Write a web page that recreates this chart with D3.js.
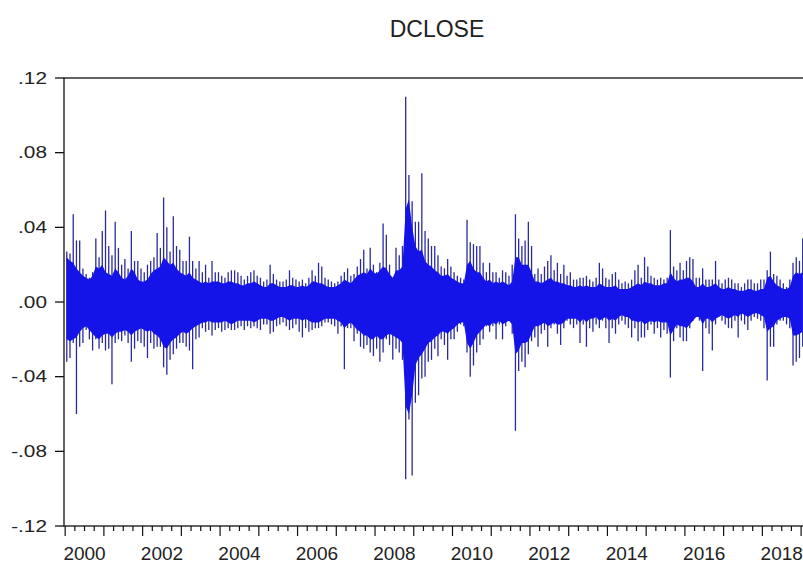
<!DOCTYPE html>
<html>
<head>
<meta charset="utf-8">
<title>DCLOSE</title>
<script src="https://cdn.jsdelivr.net/npm/d3@7"></script>
<style>
  body { margin: 0; background: #fff; }
  svg { display: block; font-family: 'Liberation Sans', Arial, sans-serif; }
</style>
</head>
<body>
<svg id="chart" width="803" height="565"></svg>
<script>
// monthly extremes of the daily series, Jan 2000 .. Jan 2019
const seriesName = 'DCLOSE';
const startYear = 2000;
const monthHigh = [
  .027,.026,.047,.033,.033,.018,.015,.013,.016,.034,
  .024,.038,.049,.030,.025,.043,.029,.020,.023,.018,
  .038,.022,.022,.018,.016,.020,.022,.024,.037,.029,
  .056,.040,.027,.046,.030,.028,.022,.022,.035,.022,
  .018,.022,.016,.020,.013,.022,
  .016,.016,.014,.013,.016,.017,.017,.016,.014,.012,
  .014,.016,.017,.014,.013,.011,.012,.020,.015,.012,
  .011,.011,.012,.017,.013,.012,.011,.012,.010,.013,
  .017,.014,.021,.019,.013,.012,.011,.010,.011,.014,
  .016,.018,.014,.015,.019,.023,
  .028,.018,.029,.020,.016,.021,.042,.036,.020,.012,
  .029,.025,.030,.110,.068,.054,.043,.043,.069,.038,
  .034,.030,.030,.025,.019,.018,.023,.019,.016,.014,
  .013,.012,.044,.032,.031,.030,.030,.021,.016,.021,
  .016,.016,.013,.017,.016,
  .014,.020,.047,.034,.030,.033,.043,.030,.015,.018,
  .015,.019,.022,.025,.017,.021,.015,.020,.014,.016,
  .012,.012,.013,.013,.014,.012,.011,.013,.021,.018,
  .013,.012,.015,.016,.012,.010,.011,.010,.012,.017,
  .020,.013,.024,.019,
  .014,.013,.012,.013,.012,.013,.0385,.019,.017,.021,
  .017,.022,.024,.023,.013,.013,.018,.012,.012,.012,
  .022,.012,.010,.012,.013,.012,.010,.010,.008,.010,
  .012,.012,.010,.010,.012,.012,.017,.027,.015,.014,
  .012,.010,.008,.012,.021,.024,.022,.034
];
const monthLow = [
  -.032,-.030,-.022,-.060,-.024,-.022,-.015,-.020,-.026,-.020,
  -.025,-.022,-.026,-.025,-.044,-.022,-.020,-.021,-.018,-.022,
  -.032,-.025,-.021,-.022,-.024,-.030,-.022,-.025,-.024,-.024,
  -.035,-.039,-.031,-.028,-.025,-.022,-.022,-.024,-.026,-.036,
  -.020,-.019,-.014,-.016,-.015,-.018,
  -.015,-.014,-.016,-.015,-.014,-.015,-.015,-.014,-.013,-.015,
  -.013,-.014,-.013,-.014,-.015,-.012,-.012,-.017,-.016,-.013,
  -.012,-.011,-.013,-.015,-.014,-.012,-.016,-.019,-.014,-.016,
  -.015,-.014,-.014,-.013,-.011,-.011,-.012,-.013,-.017,-.013,
  -.036,-.014,-.014,-.021,-.017,-.024,
  -.025,-.023,-.027,-.029,-.025,-.032,-.027,-.020,-.023,-.031,
  -.025,-.027,-.031,-.095,-.063,-.093,-.054,-.050,-.041,-.040,
  -.032,-.031,-.025,-.029,-.020,-.023,-.031,-.020,-.020,-.016,
  -.012,-.013,-.027,-.040,-.034,-.027,-.023,-.020,-.013,-.016,
  -.013,-.020,-.012,-.020,-.013,
  -.010,-.017,-.069,-.037,-.032,-.035,-.028,-.021,-.019,-.024,
  -.017,-.015,-.024,-.014,-.012,-.017,-.023,-.014,-.010,-.012,
  -.014,-.012,-.022,-.012,-.024,-.014,-.016,-.012,-.014,-.010,
  -.014,-.022,-.014,-.017,-.012,-.010,-.012,-.014,-.019,-.014,
  -.021,-.019,-.019,-.015,
  -.012,-.017,-.014,-.019,-.015,-.017,-.0405,-.021,-.014,-.019,
  -.021,-.021,-.014,-.010,-.008,-.010,-.037,-.014,-.017,-.026,
  -.012,-.008,-.010,-.012,-.014,-.014,-.010,-.019,-.010,-.012,
  -.015,-.010,-.008,-.009,-.010,-.014,-.042,-.024,-.024,-.012,
  -.010,-.010,-.012,-.014,-.034,-.032,-.030,-.024
];
// monthly extent of the dense body of the series
const bodyHigh = [
  .024,.022,.021,.018,.016,.014,.013,.012,.014,.019,
  .018,.020,.016,.015,.014,.018,.016,.013,.012,.014,
  .018,.016,.012,.011,.011,.012,.015,.017,.018,.019,
  .024,.022,.020,.021,.018,.016,.015,.014,.016,.013,
  .012,.011,.010,.011,.010,.011,
  .011,.011,.010,.010,.011,.011,.010,.010,.009,.009,
  .010,.010,.011,.010,.009,.008,.008,.010,.010,.009,
  .008,.008,.008,.009,.009,.008,.008,.009,.008,.009,
  .011,.011,.010,.010,.009,.008,.008,.008,.009,.010,
  .012,.011,.010,.012,.014,.015,
  .016,.015,.018,.016,.015,.017,.019,.018,.015,.013,
  .017,.017,.019,.050,.055,.040,.030,.027,.028,.022,
  .020,.019,.017,.016,.014,.014,.015,.013,.012,.011,
  .010,.010,.020,.022,.018,.016,.016,.013,.011,.012,
  .010,.011,.010,.011,.010,
  .009,.011,.024,.024,.020,.020,.020,.016,.011,.011,
  .010,.011,.012,.013,.011,.011,.010,.010,.009,.009,
  .008,.008,.009,.008,.009,.008,.008,.008,.010,.009,
  .008,.008,.008,.009,.007,.007,.007,.007,.008,.009,
  .010,.009,.011,.010,
  .010,.009,.009,.009,.010,.010,.016,.013,.011,.012,
  .012,.013,.013,.011,.008,.008,.010,.008,.008,.009,
  .010,.008,.007,.007,.008,.007,.007,.006,.006,.006,
  .007,.007,.006,.006,.007,.007,.013,.014,.011,.009,
  .008,.007,.007,.008,.014,.016,.015,.016
];
const bodyLow = [
  -.020,-.021,-.020,-.019,-.016,-.014,-.013,-.015,-.017,-.019,
  -.020,-.018,-.017,-.017,-.019,-.017,-.016,-.016,-.015,-.016,
  -.018,-.016,-.015,-.014,-.015,-.016,-.015,-.017,-.018,-.020,
  -.024,-.025,-.022,-.020,-.019,-.017,-.016,-.017,-.016,-.014,
  -.013,-.012,-.011,-.011,-.010,-.011,
  -.011,-.011,-.011,-.010,-.011,-.012,-.011,-.010,-.010,-.010,
  -.010,-.010,-.011,-.010,-.009,-.009,-.009,-.010,-.010,-.009,
  -.008,-.008,-.009,-.010,-.009,-.009,-.009,-.010,-.009,-.010,
  -.011,-.011,-.011,-.010,-.009,-.009,-.009,-.009,-.010,-.011,
  -.014,-.012,-.011,-.013,-.015,-.016,
  -.018,-.018,-.020,-.020,-.018,-.020,-.020,-.018,-.017,-.018,
  -.019,-.020,-.022,-.056,-.060,-.050,-.034,-.030,-.028,-.025,
  -.022,-.021,-.019,-.018,-.016,-.016,-.017,-.015,-.014,-.012,
  -.011,-.011,-.022,-.025,-.022,-.018,-.016,-.014,-.012,-.013,
  -.011,-.012,-.010,-.012,-.011,
  -.010,-.012,-.028,-.026,-.022,-.022,-.021,-.017,-.013,-.013,
  -.012,-.011,-.013,-.012,-.011,-.012,-.012,-.011,-.009,-.009,
  -.009,-.009,-.011,-.009,-.011,-.009,-.009,-.008,-.010,-.009,
  -.008,-.010,-.009,-.010,-.008,-.007,-.008,-.008,-.010,-.010,
  -.011,-.010,-.012,-.011,
  -.010,-.011,-.010,-.011,-.011,-.011,-.018,-.015,-.012,-.013,
  -.013,-.014,-.012,-.010,-.008,-.008,-.012,-.009,-.009,-.011,
  -.009,-.008,-.007,-.008,-.009,-.008,-.007,-.008,-.006,-.007,
  -.008,-.007,-.006,-.006,-.007,-.008,-.016,-.014,-.013,-.010,
  -.009,-.008,-.008,-.009,-.018,-.018,-.017,-.016
];
const yTicks = [.12, .08, .04, 0, -.04, -.08, -.12];
const yearLabels = [2000, 2002, 2004, 2006, 2008, 2010, 2012, 2014, 2016, 2018];

const svg = d3.select('#chart');
const plot = { left: 64, right: 810, top: 78, bottom: 526 };
const x = d3.scaleLinear()
    .domain([1999.97, 2019.23])
    .range([plot.left, plot.right]);
const y = d3.scaleLinear()
    .domain([-.12, .12])
    .range([plot.bottom, plot.top]);

svg.append('rect')
    .attr('width', 803).attr('height', 565).attr('fill', '#fff');

// title
svg.append('text')
    .attr('x', 437).attr('y', 37)
    .attr('text-anchor', 'middle')
    .attr('font-size', 23)
    .attr('fill', '#222')
    .text(seriesName);

// spikes: one stroke per month from its low to its high
const monthTime = i => startYear + (i + 0.5) / 12;
svg.append('g')
    .selectAll('line')
    .data(monthHigh)
    .join('line')
    .attr('x1', (d, i) => x(monthTime(i)))
    .attr('x2', (d, i) => x(monthTime(i)))
    .attr('y1', d => y(d))
    .attr('y2', (d, i) => y(monthLow[i]))
    .attr('stroke', '#2a2a9c')
    .attr('stroke-width', 1.3);

// dense body, jagged month to month
const body = d3.area()
    .x((d, i) => x(monthTime(i)))
    .y0((d, i) => y(bodyLow[i]))
    .y1(d => y(d))
    .curve(d3.curveLinear);
svg.append('path')
    .datum(bodyHigh)
    .attr('d', body)
    .attr('fill', '#1414e8');

// frame
svg.append('rect')
    .attr('x', plot.left).attr('y', plot.top)
    .attr('width', plot.right - plot.left)
    .attr('height', plot.bottom - plot.top)
    .attr('fill', 'none')
    .attr('stroke', '#111')
    .attr('stroke-width', 1.3);

// y axis, EViews style labels (.04, -.04)
const fmt = v => d3.format('.2f')(Math.abs(v)).replace('0.', '.')
    .replace(/^/, v < 0 ? '-' : '');
const yAxis = svg.append('g');
yAxis.selectAll('line')
    .data(yTicks)
    .join('line')
    .attr('x1', plot.left - 9).attr('x2', plot.left)
    .attr('y1', d => y(d)).attr('y2', d => y(d))
    .attr('stroke', '#111').attr('stroke-width', 1.3);
yAxis.selectAll('text')
    .data(yTicks)
    .join('text')
    .attr('transform', d => `translate(47, ${y(d)}) scale(1.3, 1)`)
    .attr('text-anchor', 'end')
    .attr('dy', '0.36em')
    .attr('font-size', 16)
    .attr('fill', '#222')
    .text(fmt);

// x axis: year ticks plus quarter ticks, labels centred in the year
const xAxis = svg.append('g');
const quarters = d3.range(0, 19 * 4 + 1).map(q => startYear + q / 4);
xAxis.selectAll('line')
    .data(quarters)
    .join('line')
    .attr('x1', d => x(d)).attr('x2', d => x(d))
    .attr('y1', plot.bottom)
    .attr('y2', d => plot.bottom + (Number.isInteger(d) ? 10 : 5))
    .attr('stroke', '#111').attr('stroke-width', 1.2);
xAxis.selectAll('text')
    .data(yearLabels)
    .join('text')
    .attr('x', d => x(d + 0.5))
    .attr('y', 560)
    .attr('text-anchor', 'middle')
    .attr('font-size', 19)
    .attr('fill', '#222')
    .text(d => d);
</script>
</body>
</html>
